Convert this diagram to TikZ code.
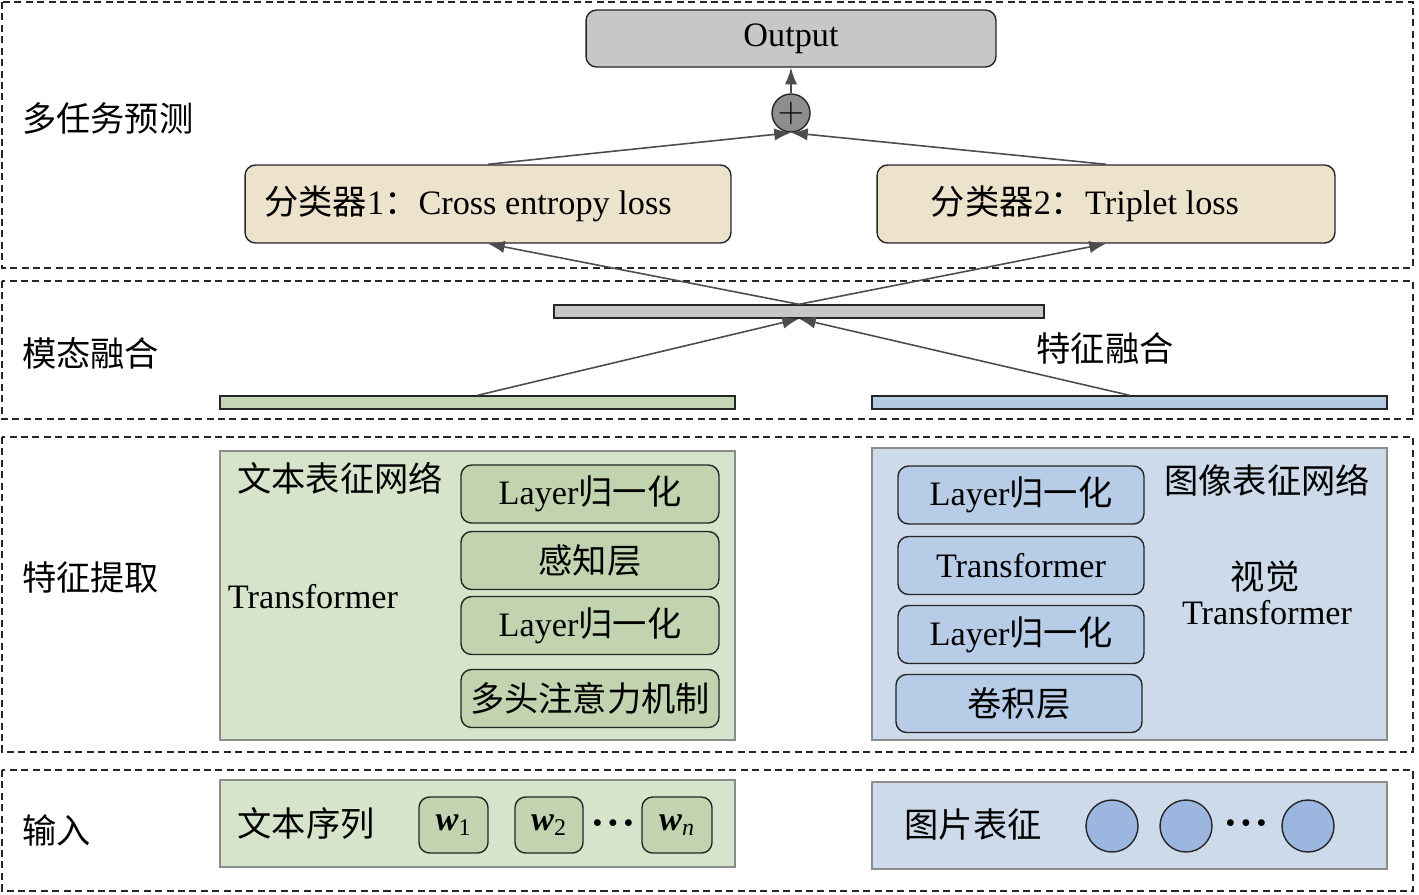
\documentclass[tikz,border=0pt]{standalone}
\usepackage{fontspec}
\setmainfont{Liberation Serif}
\newfontfamily\cjk{Noto Sans CJK SC}
\usetikzlibrary{calc,arrows.meta}

\definecolor{outgray}{HTML}{C5C7C9}
\definecolor{plusgray}{HTML}{8C8E90}
\definecolor{clsbeige}{HTML}{EDE2CB}
\definecolor{txtbar}{HTML}{C4D6B5}
\definecolor{imgbar}{HTML}{B6CAE4}
\definecolor{txtpanel}{HTML}{D7E4CC}
\definecolor{txtbox}{HTML}{C2D4AF}
\definecolor{imgpanel}{HTML}{CCDAEA}
\definecolor{imgbox}{HTML}{B7CCE6}
\definecolor{imgdot}{HTML}{9BB7DF}

\tikzset{
  band/.style={draw=black!85, dash pattern=on 4pt off 2.5pt, line width=1.3pt},
  blk/.style={draw=black!85, rounded corners=6pt, line width=0.8pt, inner sep=0pt},
  panel/.style={draw=black!45, line width=1pt, inner sep=0pt},
  bar/.style={draw=black!85, line width=0.8pt, minimum height=0.26cm, inner sep=0pt},
  txtblk/.style={blk, fill=txtbox, minimum width=5.16cm, minimum height=1.16cm},
  imgblk/.style={blk, fill=imgbox, minimum width=4.92cm, minimum height=1.16cm},
  wbox/.style={blk, fill=txtbox, minimum height=1.12cm},
  patch/.style={circle, draw=black!85, fill=imgdot, line width=0.8pt, minimum size=1.04cm},
  con/.style={draw=black!70, line width=0.9pt, -{Latex[length=9.5pt, width=7pt]}},
}
\newcommand{\mydots}{{\fontsize{10}{12}\selectfont$\bullet\mkern3mu\bullet\mkern3mu\bullet$}}

\begin{document}
\begin{tikzpicture}[x=0.02cm, y=-0.02cm, font=\fontsize{19.5}{23}\selectfont]
  \useasboundingbox (0,0) rectangle (1419,894);

  % four layers
  \draw[band] (2,2) rectangle (1413,268);
  \draw[band] (2,281) rectangle (1413,419);
  \draw[band] (2,437) rectangle (1413,752);
  \draw[band] (2,770) rectangle (1413,891);
  \node[anchor=west] (l1) at (16,118) {\cjk 多任务预测};
  \node[anchor=west] (l2) at (16,353) {\cjk 模态融合};
  \node[anchor=west] (l3) at (16,577) {\cjk 特征提取};
  \node[anchor=west] (l4) at (16,830) {\cjk 输入};

  % prediction
  \node[blk, fill=outgray, minimum width=8.2cm, minimum height=1.14cm] (out) at (791,38.5) {Output};
  \node[circle, draw=black!85, fill=plusgray, line width=0.8pt, minimum size=0.76cm, inner sep=0pt] (plus) at (791,113) {$+$};
  \node[blk, fill=clsbeige, minimum width=9.72cm, minimum height=1.56cm] (cls1) at (488,204)
    {{\cjk 分类器}1{\cjk ：}Cross entropy loss\hspace*{0.8cm}};
  \node[blk, fill=clsbeige, minimum width=9.16cm, minimum height=1.56cm] (cls2) at (1106,204)
    {{\cjk 分类器}2{\cjk ：}Triplet loss\hspace*{0.84cm}};
  \draw[con] (plus) -- (out);
  \draw[con] (cls1.north) -- (plus.south);
  \draw[con] (cls2.north) -- (plus.south);

  % fusion
  \node[bar, fill=outgray, minimum width=9.8cm] (fuse) at (799,311.5) {};
  \node[bar, fill=txtbar, minimum width=10.3cm] (tbar) at (477.5,402.5) {};
  \node[bar, fill=imgbar, minimum width=10.3cm] (ibar) at (1129.5,402.5) {};
  \node (fusetxt) at (1105,348) {\cjk 特征融合};
  \draw[con] (fuse.north) -- (cls1.south);
  \draw[con] (fuse.north) -- (cls2.south);
  \draw[con] (tbar.north) -- (fuse.south);
  \draw[con] (ibar.north) -- (fuse.south);

  % text network
  \node[panel, fill=txtpanel, minimum width=10.3cm, minimum height=5.78cm] (tnet) at (477.5,595.5) {};
  \node (tname) at (340,478) {\cjk 文本表征网络};
  \node (ttr) at (313,597) {Transformer};
  \node[txtblk] (tln1) at (590,494) {Layer{\cjk 归一化}};
  \node[txtblk] (tmlp) at (590,560.5) {\cjk 感知层};
  \node[txtblk] (tln2) at (590,625.5) {Layer{\cjk 归一化}};
  \node[txtblk] (tatt) at (590,698.5) {\cjk 多头注意力机制};

  % image network
  \node[panel, fill=imgpanel, minimum width=10.3cm, minimum height=5.84cm] (inet) at (1129.5,594) {};
  \node (iname) at (1267,480) {\cjk 图像表征网络};
  \node (ivis) at (1265,577) {\cjk 视觉};
  \node (itr) at (1267,613) {Transformer};
  \node[imgblk] (iln1) at (1021,495) {Layer{\cjk 归一化}};
  \node[imgblk] (itrb) at (1021,565.5) {Transformer};
  \node[imgblk] (iln2) at (1021,634.5) {Layer{\cjk 归一化}};
  \node[imgblk] (iconv) at (1019,703.5) {\cjk 卷积层};

  % inputs
  \node[panel, fill=txtpanel, minimum width=10.3cm, minimum height=1.74cm] (tin) at (477.5,823.5) {};
  \node (tseq) at (306,823) {\cjk 文本序列};
  \node[wbox, minimum width=1.38cm] (w1) at (453.5,825) {\textbf{\textit{w}}\textsubscript{1}};
  \node[wbox, minimum width=1.36cm] (w2) at (549,825) {\textbf{\textit{w}}\textsubscript{2}};
  \node[inner sep=0pt] (tdots) at (613,824) {\mydots};
  \node[wbox, minimum width=1.4cm] (wn) at (677,825) {\textbf{\textit{w}}\textsubscript{\textit{n}}};

  \node[panel, fill=imgpanel, minimum width=10.3cm, minimum height=1.74cm] (iin) at (1129.5,825.5) {};
  \node (ipic) at (973,824) {\cjk 图片表征};
  \node[patch] (p1) at (1112,826) {};
  \node[patch] (p2) at (1186,826) {};
  \node[inner sep=0pt] (idots) at (1246,824) {\mydots};
  \node[patch] (pn) at (1308,826) {};
\end{tikzpicture}
\end{document}
